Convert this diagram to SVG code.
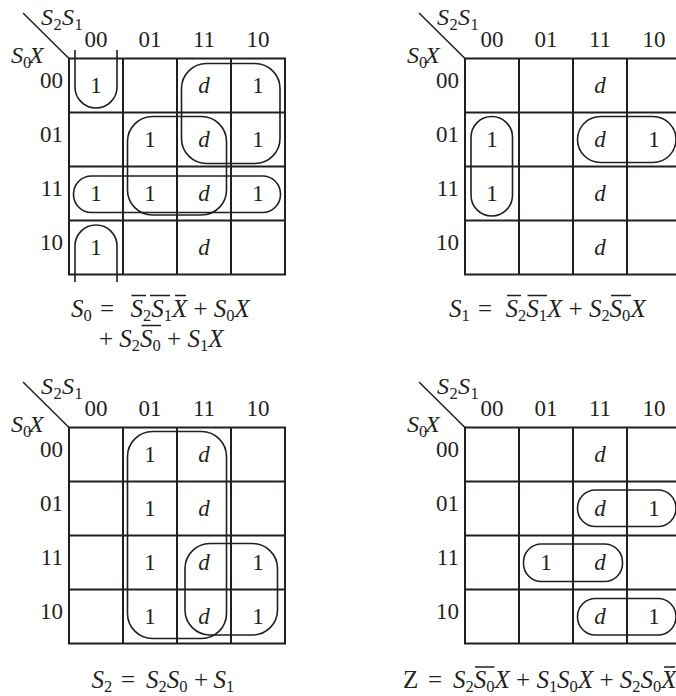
<svg xmlns="http://www.w3.org/2000/svg" width="676" height="696" viewBox="0 0 676 696">
<style>
.bg{fill:#fff}
.gl{fill:none;stroke:#231f20;stroke-width:2}
.lp{fill:none;stroke:#231f20;stroke-width:1.6}
.dg{stroke:#231f20;stroke-width:1.5}
.ov{stroke:#231f20;stroke-width:1.3}
text{font-family:"Liberation Serif","Times New Roman",serif;fill:#231f20}
.t{font-size:23px}
.c{text-anchor:middle}
.e{text-anchor:end}
.i{font-style:italic}
.f{font-size:25px}
.s{font-size:16.5px;font-style:normal}
.lb{font-size:24px}
</style>
<defs>
<g id="grid">
<rect class="gl" x="0" y="0" width="216" height="216"/>
<path class="gl" d="M54,0V216M108,0V216M162,0V216M0,54H216M0,108H216M0,162H216"/>
<line class="dg" x1="-46" y1="-45.5" x2="0" y2="0"/>
<text class="lb i"><tspan x="-28" y="-33.5">S</tspan><tspan class="s" x="-15.5" y="-28.5">2</tspan><tspan x="-7" y="-33.5">S</tspan><tspan class="s" x="5.5" y="-28.5">1</tspan></text>
<text class="lb i"><tspan x="-58" y="4.5">S</tspan><tspan class="s" x="-46" y="9">0</tspan><tspan x="-40" y="4.5">X</tspan></text>
<text class="t c" y="-11.5"><tspan x="27">00</tspan><tspan x="81">01</tspan><tspan x="135">11</tspan><tspan x="189">10</tspan></text>
<text class="t e" x="-6" y="29">00</text>
<text class="t e" x="-6" y="83">01</text>
<text class="t e" x="-6" y="137">11</text>
<text class="t e" x="-6" y="191">10</text>
</g>
</defs>
<rect class="bg" x="0" y="0" width="676" height="696"/>

<g id="kmap-s0" transform="translate(69,58.5)">
<use href="#grid"/>
<g class="t c">
<text x="27" y="34.5">1</text><text class="i" x="135" y="34.5">d</text><text x="189" y="34.5">1</text>
<text x="81" y="88.5">1</text><text class="i" x="135" y="88.5">d</text><text x="189" y="88.5">1</text>
<text x="27" y="142.5">1</text><text x="81" y="142.5">1</text><text class="i" x="135" y="142.5">d</text><text x="189" y="142.5">1</text>
<text x="27" y="196.5">1</text><text class="i" x="135" y="196.5">d</text>
</g>
<g id="loops-s0">
<path class="lp" d="M6,-8.5V28.5A21,21 0 0 0 48,28.5V-8.5"/>
<path class="lp" d="M6,223.5V187.5A21,21 0 0 1 48,187.5V223.5"/>
<rect class="lp" x="112.5" y="5" width="98.5" height="100" rx="25"/>
<rect class="lp" x="58.5" y="58" width="99" height="98.5" rx="25"/>
<rect class="lp" x="4.5" y="117.5" width="207" height="36.5" rx="18"/>
</g>
</g>

<g id="kmap-s1" transform="translate(465,58.5)">
<use href="#grid"/>
<g class="t c">
<text class="i" x="135" y="34.5">d</text>
<text x="27" y="88.5">1</text><text class="i" x="135" y="88.5">d</text><text x="189" y="88.5">1</text>
<text x="27" y="142.5">1</text><text class="i" x="135" y="142.5">d</text>
<text class="i" x="135" y="196.5">d</text>
</g>
<g id="loops-s1">
<rect class="lp" x="6" y="58" width="41.5" height="99.5" rx="20.75"/>
<rect class="lp" x="112.5" y="58" width="98.5" height="46" rx="23"/>
</g>
</g>

<g id="kmap-s2" transform="translate(69,427.5)">
<use href="#grid"/>
<g class="t c">
<text x="81" y="34.5">1</text><text class="i" x="135" y="34.5">d</text>
<text x="81" y="88.5">1</text><text class="i" x="135" y="88.5">d</text>
<text x="81" y="142.5">1</text><text class="i" x="135" y="142.5">d</text><text x="189" y="142.5">1</text>
<text x="81" y="196.5">1</text><text class="i" x="135" y="196.5">d</text><text x="189" y="196.5">1</text>
</g>
<g id="loops-s2">
<rect class="lp" x="58.5" y="4" width="99" height="207" rx="25"/>
<rect class="lp" x="116" y="116" width="92.5" height="91.5" rx="25"/>
</g>
</g>

<g id="kmap-z" transform="translate(465,427.5)">
<use href="#grid"/>
<g class="t c">
<text class="i" x="135" y="34.5">d</text>
<text class="i" x="135" y="88.5">d</text><text x="189" y="88.5">1</text>
<text x="81" y="142.5">1</text><text class="i" x="135" y="142.5">d</text>
<text class="i" x="135" y="196.5">d</text><text x="189" y="196.5">1</text>
</g>
<g id="loops-z">
<rect class="lp" x="112.5" y="62.5" width="98.5" height="36.5" rx="18"/>
<rect class="lp" x="58.5" y="116.5" width="99" height="37.5" rx="18"/>
<rect class="lp" x="112.5" y="171" width="98.5" height="36.5" rx="18"/>
</g>
</g>

<g id="eq-s0">
<text class="f i"><tspan x="71" y="316.5">S</tspan><tspan class="s" x="83.5" y="321">0</tspan><tspan style="font-style:normal" x="100" y="316.5">=</tspan><tspan x="130.5" y="316.5">S</tspan><tspan class="s" x="143" y="321">2</tspan><tspan x="151.25" y="316.5">S</tspan><tspan class="s" x="163.75" y="321">1</tspan><tspan x="172" y="316.5">X</tspan><tspan style="font-style:normal" x="193.5" y="316.5">+</tspan><tspan x="213.75" y="316.5">S</tspan><tspan class="s" x="226.25" y="321">0</tspan><tspan x="234.5" y="316.5">X</tspan></text>
<text class="f i"><tspan style="font-style:normal" x="99" y="346.5">+</tspan><tspan x="119.35" y="346.5">S</tspan><tspan class="s" x="131.85" y="351">2</tspan><tspan x="140.1" y="346.5">S</tspan><tspan class="s" x="152.6" y="351">0</tspan><tspan style="font-style:normal" x="167.1" y="346.5">+</tspan><tspan x="187.45" y="346.5">S</tspan><tspan class="s" x="199.95" y="351">1</tspan><tspan x="208.2" y="346.5">X</tspan></text>
<path class="ov" d="M131.5,295.5H146M150,295.5H170M175,295.5H186M141.5,325.5H161"/>
</g>

<g id="eq-s1">
<text class="f i"><tspan x="449" y="316.5">S</tspan><tspan class="s" x="461.5" y="321">1</tspan><tspan style="font-style:normal" x="478" y="316.5">=</tspan><tspan x="505.5" y="316.5">S</tspan><tspan class="s" x="518" y="321">2</tspan><tspan x="526.25" y="316.5">S</tspan><tspan class="s" x="538.75" y="321">1</tspan><tspan x="547" y="316.5">X</tspan><tspan style="font-style:normal" x="568.5" y="316.5">+</tspan><tspan x="588.9" y="316.5">S</tspan><tspan class="s" x="601.4" y="321">2</tspan><tspan x="609.6" y="316.5">S</tspan><tspan class="s" x="622.1" y="321">0</tspan><tspan x="630.4" y="316.5">X</tspan></text>
<path class="ov" d="M507,295.5H521M527.5,295.5H547M611,295.5H631"/>
</g>

<g id="eq-s2">
<text class="f i"><tspan x="91.5" y="688">S</tspan><tspan class="s" x="104" y="692">2</tspan><tspan style="font-style:normal" x="121" y="688">=</tspan><tspan x="146" y="688">S</tspan><tspan class="s" x="158.5" y="692">2</tspan><tspan x="166.75" y="688">S</tspan><tspan class="s" x="179.25" y="692">0</tspan><tspan style="font-style:normal" x="194" y="688">+</tspan><tspan x="213.5" y="688">S</tspan><tspan class="s" x="226" y="692">1</tspan></text>
</g>

<g id="eq-z">
<text class="f i"><tspan style="font-style:normal" x="403" y="688">Z</tspan><tspan style="font-style:normal" x="428" y="688">=</tspan><tspan x="453" y="688">S</tspan><tspan class="s" x="465.5" y="692">2</tspan><tspan x="473.75" y="688">S</tspan><tspan class="s" x="486.25" y="692">0</tspan><tspan x="494.5" y="688">X</tspan><tspan style="font-style:normal" x="516" y="688">+</tspan><tspan x="536.4" y="688">S</tspan><tspan class="s" x="548.9" y="692">1</tspan><tspan x="557.1" y="688">S</tspan><tspan class="s" x="569.6" y="692">0</tspan><tspan x="577.9" y="688">X</tspan><tspan style="font-style:normal" x="599.4" y="688">+</tspan><tspan x="619.8" y="688">S</tspan><tspan class="s" x="632.3" y="692">2</tspan><tspan x="640.5" y="688">S</tspan><tspan class="s" x="653" y="692">0</tspan><tspan x="661.3" y="688">X</tspan></text>
<path class="ov" d="M475,667H494.5M664,667H675"/>
</g>
</svg>
